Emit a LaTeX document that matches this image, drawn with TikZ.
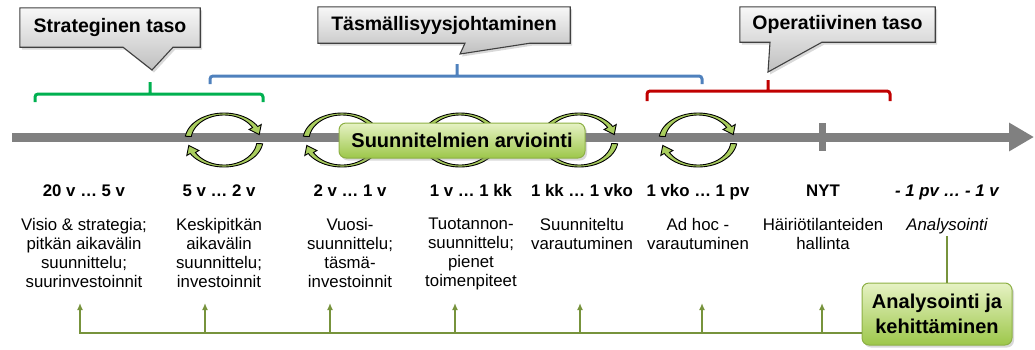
\documentclass[tikz,border=0pt]{standalone}
\usepackage{fontspec}
\setmainfont{Liberation Sans}
\usepackage{tikz}
\usetikzlibrary{arrows.meta,positioning,shadows,backgrounds}
\definecolor{axisgray}{HTML}{808080}
\definecolor{brkgreen}{HTML}{00B050}
\definecolor{brkblue}{HTML}{4F81BD}
\definecolor{brkred}{HTML}{C00000}
\definecolor{fbgreen}{HTML}{77933C}
\definecolor{boxtop}{HTML}{E6F2C4}
\definecolor{boxbot}{HTML}{9DC74A}
\definecolor{boxedge}{HTML}{8DB045}
\definecolor{cycfill}{HTML}{A9CD5E}

\begin{document}
\begin{tikzpicture}[x=1pt,y=-1pt,>=Latex,
  callout/.style={draw=black!75,line width=1.1pt,top color=black!3,bottom color=black!25,
    drop shadow={opacity=0.3,shadow xshift=2pt,shadow yshift=-2.5pt}},
  ctext/.style={font=\fontsize{19.5}{22}\selectfont\bfseries,inner sep=0pt},
  brk/.style={line width=3pt,rounded corners=3pt},
  timeline/.style={draw=axisgray,line width=9pt,-{Triangle[length=25pt,width=27pt]}},
  gbox/.style={draw=boxedge,line width=1pt,rounded corners=7pt,top color=boxtop,bottom color=boxbot,
    font=\fontsize{20}{25}\selectfont\bfseries,align=center,inner sep=0pt,
    drop shadow={opacity=0.3,shadow xshift=2pt,shadow yshift=-2.5pt}},
  hd/.style={font=\fontsize{16.8}{19}\selectfont\bfseries,anchor=base,inner sep=0pt},
  ds/.style={font=\fontsize{16.8}{19}\selectfont,align=center,anchor=north,inner sep=0pt},
  fbline/.style={draw=fbgreen,line width=2pt,-{Latex[length=7pt,width=6pt]}},
  cycarrow/.style={draw=black,line width=0.9pt,fill=cycfill},
  cyc/.pic={
    \foreach \r in {0,180}
      \filldraw[cycarrow,rotate=\r]
        plot[domain=172:30,samples=30] ({39*cos(\x)},{-27*sin(\x)})
        -- ({43*cos(30)},{-31*sin(30)}) -- ({36*cos(12)},{-26*sin(12)})
        -- ({29*cos(30)},{-21*sin(30)})
        -- plot[domain=30:172,samples=30] ({33*cos(\x)},{-25*sin(\x)}) -- cycle;
  }]
\useasboundingbox (0,0) rectangle (1035,349);

% callouts on top
\node[ctext,minimum width=180,minimum height=39] (strat) at (110,27.5) {Strateginen taso};
\node[ctext,minimum width=252,minimum height=36] (tasm) at (444,25) {Täsmällisyysjohtaminen};
\node[ctext,minimum width=195,minimum height=35] (oper) at (837.5,24.5) {Operatiivinen taso};
\begin{scope}[on background layer]
  \draw[callout] (strat.north west) -- (strat.north east) -- (strat.south east)
    -- (173,0 |- strat.south) -- (152,70) -- (123,0 |- strat.south) -- (strat.south west) -- cycle;
  \draw[callout] (tasm.north west) -- (tasm.north east) -- (tasm.south east)
    -- (530,0 |- tasm.south) -- (460,54) -- (465,0 |- tasm.south) -- (tasm.south west) -- cycle;
  \draw[callout] (oper.north west) -- (oper.north east) -- (oper.south east)
    -- (822,0 |- oper.south) -- (768,72) -- (770,0 |- oper.south) -- (oper.south west) -- cycle;
\end{scope}

% brackets
\draw[brk,brkgreen] (35,102) -- (35,94) -- (263,94) -- (263,102) (150,94) -- (150,82);
\draw[brk,brkblue] (210,84) -- (210,76) -- (702,76) -- (702,84) (457,76) -- (457,64);
\draw[brk,brkred] (647,101) -- (647,91) -- (890,91) -- (890,101) (768,91) -- (768,80);

% time axis
\coordinate (axl) at (12,137);
\coordinate (axr) at (1034,137);
\draw[timeline] (axl) -- (axr);
\draw[axisgray,line width=7pt] (822,123) -- (822,151);

% planning cycles
\pic at (224,140) {cyc};
\pic at (342,140) {cyc};
\pic at (460,140) {cyc};
\pic at (579,140) {cyc};
\pic at (698,140) {cyc};

\node[gbox,minimum width=246,minimum height=35] (sua) at (462,140.5) {Suunnitelmien arviointi};

% time spans
\node[hd] (hd1) at (84,196) {20 v … 5 v};
\node[hd] (hd2) at (219,196) {5 v … 2 v};
\node[hd] (hd3) at (350,196) {2 v … 1 v};
\node[hd] (hd4) at (471,196) {1 v … 1 kk};
\node[hd] (hd5) at (582,196) {1 kk … 1 vko};
\node[hd] (hd6) at (698,196) {1 vko … 1 pv};
\node[hd] (hd7) at (823,196) {NYT};
\node[hd,font=\fontsize{16.8}{19}\selectfont\bfseries\itshape] (hd8) at (947,196) {- 1 pv … - 1 v};

\node[ds] (ds1) at (84,218) {Visio \& strategia;\\pitkän aikavälin\\suunnittelu;\\suurinvestoinnit};
\node[ds] (ds2) at (219,218) {Keskipitkän\\aikavälin\\suunnittelu;\\investoinnit};
\node[ds] (ds3) at (350,218) {Vuosi-\\suunnittelu;\\täsmä-\\investoinnit};
\node[ds] (ds4) at (471,218) {Tuotannon-\\suunnittelu;\\pienet\\toimenpiteet};
\node[ds] (ds5) at (582,218) {Suunniteltu\\varautuminen};
\node[ds] (ds6) at (698,218) {Ad hoc -\\varautuminen};
\node[ds] (ds7) at (823,218) {Häiriötilanteiden\\hallinta};
\node[ds,font=\fontsize{16.8}{19}\selectfont\itshape] (ds8) at (947,218) {Analysointi};

% feedback
\node[gbox,minimum width=150,minimum height=62] (ana) at (937,314) {Analysointi ja\\kehittäminen};
\draw[fbline,-] (ds8.south) ++(0,2) -- (ds8.south |- ana.north);
\coordinate (fb) at (80,333);
\foreach \x [count=\i] in {80,205,330,455,580,702,822}
  \coordinate (up\i) at (\x,303);
\draw[fbline] (ana.west |- fb) -| (up1);
\foreach \i in {2,...,7}
  \draw[fbline] (up\i |- fb) -- (up\i);
\end{tikzpicture}
\end{document}
